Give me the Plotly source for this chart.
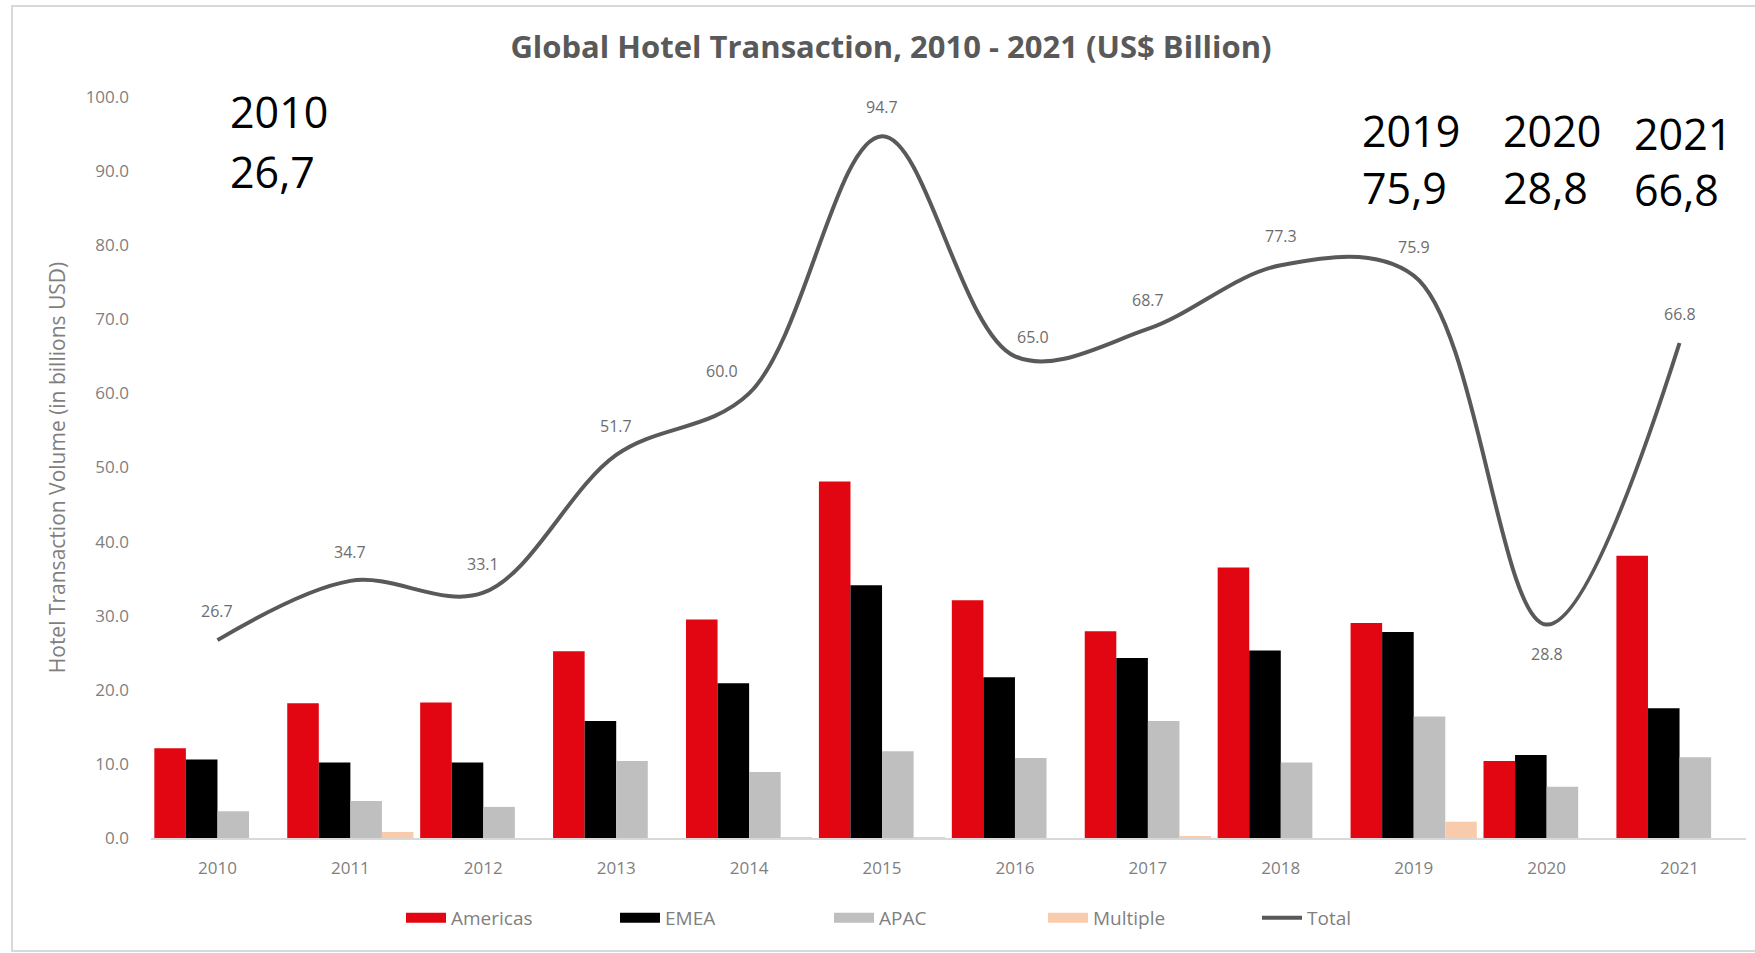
import plotly.graph_objects as go

years = ["2010", "2011", "2012", "2013", "2014", "2015",
         "2016", "2017", "2018", "2019", "2020", "2021"]
americas = [12.1, 18.2, 18.3, 25.2, 29.5, 48.1, 32.1, 27.9, 36.5, 29.0, 10.4, 38.1]
emea = [10.6, 10.2, 10.2, 15.8, 20.9, 34.1, 21.7, 24.3, 25.3, 27.8, 11.2, 17.5]
apac = [3.6, 5.0, 4.2, 10.4, 8.9, 11.7, 10.8, 15.8, 10.2, 16.4, 6.9, 10.9]
multiple = [0.0, 0.8, 0.0, 0.0, 0.1, 0.1, 0.0, 0.2, 0.0, 2.2, 0.0, 0.0]
total = [26.7, 34.7, 33.1, 51.7, 60.0, 94.7, 65.0, 68.7, 77.3, 75.9, 28.8, 66.8]

callout_years = ["2010", "2019", "2020", "2021"]
callout_values = ["26,7", "75,9", "28,8", "66,8"]

# pixel layout of the figure
W, H = 1755, 953
L, R, T, B = 151, 9, 97, 115
plot_w, plot_h = W - L - R, H - T - B
callout_pos = [(228, 112, 171), (1360, 130, 187), (1501, 130, 187), (1632, 133, 190)]
# (xshift, yshift) of each total label, in px
label_shift = [(0, 29), (0, 29), (0, 29), (0, 29), (-27, 22), (0, 29),
               (18, 19), (0, 29), (0, 29), (0, 29), (0, -29), (0, 29)]

series = [("Americas", americas, "#E20613"),
          ("EMEA", emea, "#000000"),
          ("APAC", apac, "#BFBFBF"),
          ("Multiple", multiple, "#F8CBAD")]

FONT = "Open Sans"
GREY = "#7F7F7F"

fig = go.Figure()
for name, vals, color in series:
    fig.add_trace(go.Bar(x=years, y=vals, name=name, marker_color=color,
                         marker_line_width=0, showlegend=False))

fig.add_trace(go.Scatter(x=years, y=total, name="Total", mode="lines",
                         line=dict(color="#595959", width=4, shape="spline", smoothing=1.0),
                         showlegend=False))

# legend entries (wide swatches like the original)
for name, vals, color in series:
    fig.add_trace(go.Scatter(x=[None], y=[None], mode="lines", name=name,
                             line=dict(color=color, width=14)))
fig.add_trace(go.Scatter(x=[None], y=[None], mode="lines", name="Total",
                         line=dict(color="#595959", width=4)))

# total data labels (x given as category index)
for i, (v, (dx, dy)) in enumerate(zip(total, label_shift)):
    fig.add_annotation(x=i, y=v, text=f"{v:.1f}", showarrow=False, xshift=dx, yshift=dy,
                       font=dict(family=FONT, size=16, color="#6D6D6D"))

# large callouts
for (yr, val), (px, py1, py2) in zip(zip(callout_years, callout_values), callout_pos):
    for txt, py in ((yr, py1), (val, py2)):
        fig.add_annotation(xref="paper", yref="paper",
                           x=(px - L) / plot_w, y=(H - B - py) / plot_h,
                           xanchor="left", yanchor="middle", text=txt, showarrow=False,
                           font=dict(family=FONT, size=43, color="#000000"))

# outer frame
fig.add_shape(type="rect", xref="paper", yref="paper",
              x0=(12 - L) / plot_w, x1=(W + 20 - L) / plot_w,
              y0=(H - B - 951) / plot_h, y1=(H - B - 6) / plot_h,
              line=dict(color="#D9D9D9", width=2), layer="below")

fig.update_layout(
    width=W, height=H,
    margin=dict(l=L, r=R, t=T, b=B),
    plot_bgcolor="white", paper_bgcolor="white",
    barmode="group", bargap=0.05, bargroupgap=0,
    title=dict(text="<b>Global Hotel Transaction, 2010 - 2021 (US$ Billion)</b>",
               x=891 / W, xanchor="center", xref="container",
               y=1 - 47 / H, yanchor="middle", yref="container",
               font=dict(family=FONT, size=31, color="#595959")),
    xaxis=dict(type="category", range=[-0.5, len(years) - 0.5],
               showline=True, linecolor="#D9D9D9", linewidth=2,
               showgrid=False, ticks="", ticklabelstandoff=14,
               tickfont=dict(family=FONT, size=17, color=GREY)),
    yaxis=dict(range=[0, 100], dtick=10, tickformat=".1f", showgrid=False,
               zeroline=False, showline=False, ticks="", ticklabelstandoff=21,
               tickfont=dict(family=FONT, size=17, color=GREY),
               title=dict(text="Hotel Transaction Volume (in billions USD)", standoff=14,
                          font=dict(family=FONT, size=21, color=GREY))),
    legend=dict(orientation="h", xref="container", yref="container",
                x=401 / W, xanchor="left", y=1 - 918 / H, yanchor="middle",
                entrywidth=159, entrywidthmode="pixels", itemwidth=40,
                font=dict(family=FONT, size=19, color=GREY)),
)

fig.write_html("out.html", config={"displayModeBar": False},
               post_script="document.body.style.margin='0';")
